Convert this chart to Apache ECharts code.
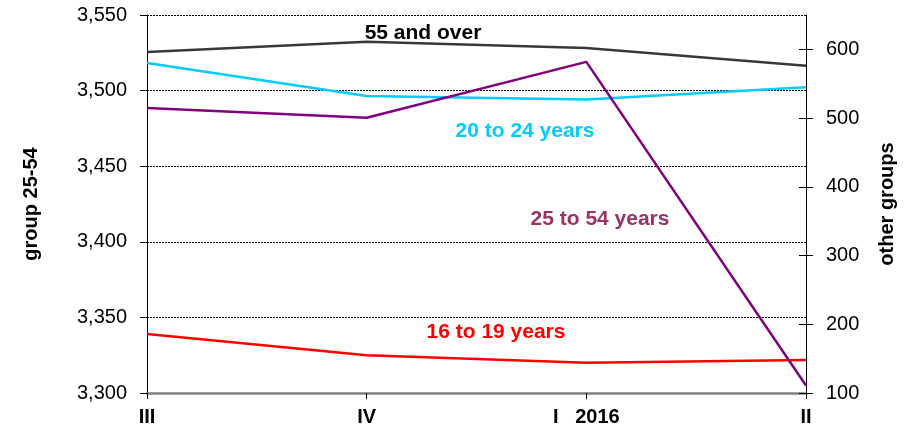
<!DOCTYPE html>
<html style="height: 100%;width: 100%">
<head>
    <meta charset="UTF-8">
    <script type="text/javascript" src="https://cdn.jsdelivr.net/npm/echarts@6/dist/echarts.min.js"></script>
    <title>Employment by age group</title>
    <style>
    body{
        margin: 0;
        background: #ffffff;
    }
</style>
</head>
<body>
<div id="main" style="width: 912px;height:433px;"></div>
<script type="text/javascript">
    // quarters on the x axis
    var quarters = ['III', 'IV', 'I   2016', 'II'];
    // left axis: group 25-54
    var age25to54 = [3488.5, 3482, 3519, 3305];
    // right axis: other groups
    var age55over = [596, 611, 602, 576];
    var age20to24 = [580, 532, 527, 545];
    var age16to19 = [186, 155, 144, 148];
    var rightTicks = [100, 200, 300, 400, 500, 600];

    var font = 'Arial, "Liberation Sans", sans-serif';
    var myChart = echarts.init(document.getElementById('main'));

    function lineSeries(name, data, color, axis) {
        return {
            name: name,
            type: 'line',
            yAxisIndex: axis,
            data: data,
            symbol: 'none',
            lineStyle: {color: color, width: 2.5},
            itemStyle: {color: color},
            z: 5
        };
    }

    function seriesLabel(text, x, y, color) {
        return {
            type: 'text',
            x: x,
            y: y,
            z: 10,
            style: {
                text: text,
                fill: color,
                font: 'bold 21px ' + font,
                textAlign: 'center',
                textVerticalAlign: 'middle'
            }
        };
    }

    var option = {
        animation: false,
        grid: {left: 147, right: 106, top: 15, bottom: 40},
        xAxis: {
            type: 'category',
            data: quarters,
            boundaryGap: false,
            axisLine: {lineStyle: {color: '#808080', width: 2.5}},
            axisTick: {show: true, length: 6, lineStyle: {color: '#000'}},
            axisLabel: {
                color: '#000', fontFamily: font, fontSize: 20, fontWeight: 'bold',
                margin: 14, interval: 0
            }
        },
        yAxis: [{
            type: 'value',
            min: 3300,
            max: 3550,
            interval: 50,
            name: 'group 25-54',
            nameLocation: 'middle',
            nameGap: 106,
            nameTextStyle: {color: '#000', fontFamily: font, fontSize: 20, fontWeight: 'bold'},
            axisLine: {show: true, lineStyle: {color: '#000', width: 1}},
            axisTick: {show: true, length: 7, lineStyle: {color: '#000'}},
            axisLabel: {
                color: '#000', fontFamily: font, fontSize: 20, margin: 20,
                formatter: function (v) { return v.toLocaleString('en-US'); }
            },
            splitLine: {show: true, lineStyle: {color: '#000', type: [2, 1], width: 1}}
        }, {
            type: 'value',
            position: 'right',
            min: 100,
            max: 650,
            name: 'other groups',
            nameLocation: 'middle',
            nameGap: 71,
            nameTextStyle: {color: '#000', fontFamily: font, fontSize: 20, fontWeight: 'bold'},
            axisLine: {show: true, lineStyle: {color: '#000', width: 1}},
            axisTick: {show: true, length: 7, customValues: rightTicks, lineStyle: {color: '#000'}},
            axisLabel: {
                color: '#000', fontFamily: font, fontSize: 20, margin: 20,
                customValues: rightTicks
            },
            splitLine: {show: false}
        }, {
            // inward half of the crossing ticks on the right axis
            type: 'value',
            position: 'right',
            min: 100,
            max: 650,
            axisLine: {show: false},
            axisTick: {show: true, inside: true, length: 7, customValues: rightTicks, lineStyle: {color: '#000'}},
            axisLabel: {show: false},
            splitLine: {show: false}
        }],
        series: [
            lineSeries('55 and over', age55over, '#383838', 1),
            lineSeries('20 to 24 years', age20to24, '#00ccff', 1),
            lineSeries('16 to 19 years', age16to19, '#ff0000', 1),
            lineSeries('25 to 54 years', age25to54, '#800080', 0)
        ],
        graphic: [
            seriesLabel('55 and over', 423, 33, '#000000'),
            seriesLabel('20 to 24 years', 525, 131, '#00ccff'),
            seriesLabel('25 to 54 years', 600, 219, '#993366'),
            seriesLabel('16 to 19 years', 496, 332, '#ff0000')
        ]
    };

    myChart.setOption(option);
</script>
</body>
</html>
